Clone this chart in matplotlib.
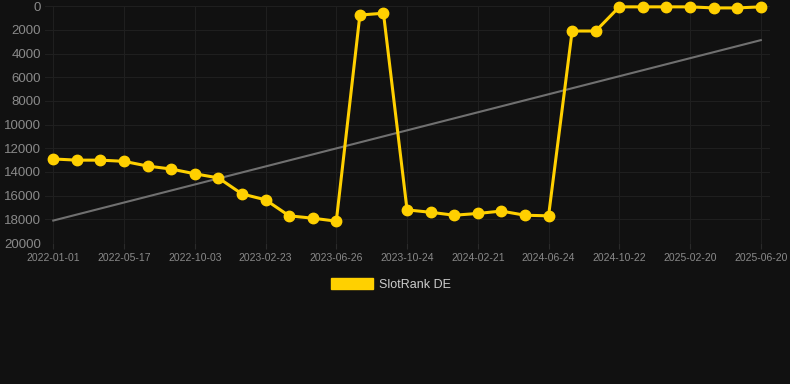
import numpy as np
import matplotlib
matplotlib.use("Agg")
import matplotlib.pyplot as plt
from matplotlib.patches import Patch

plt.rcParams['font.family'] = ['Liberation Sans', 'DejaVu Sans']

# Tick labels (every third data point)
date_labels = ["2022-01-01", "2022-05-17", "2022-10-03", "2023-02-23", "2023-06-26",
               "2023-10-24", "2024-02-21", "2024-06-24", "2024-10-22", "2025-02-20",
               "2025-06-20"]

# SlotRank DE values, one per point
rank = [12900, 13000, 13000, 13100, 13500, 13750, 14150, 14500, 15850, 16350,
        17700, 17900, 18150, 750, 600, 17200, 17400, 17650, 17500, 17300,
        17650, 17700, 2100, 2100, 60, 60, 60, 60, 150, 150, 60]

# trend line endpoints
trend = [18100, 2870]

bg = "#111111"
gold = "#FFD000"

fig = plt.figure(figsize=(7.9, 3.84), dpi=100, facecolor=bg)
ax = fig.add_axes([0.057, 0.367, 0.918, 0.617], facecolor=bg)

x = np.arange(len(rank))
ax.plot([x[0], x[-1]], trend, color="#707070", lw=1.5, zorder=2)
ax.plot(x, rank, color=gold, lw=2.2, marker="o", ms=7.5, zorder=3, clip_on=False)

ax.set_ylim(20000, 0)
ax.set_yticks(np.arange(0, 20001, 2000))
ax.set_xlim(-0.35, 30.4)
ax.set_xticks(x[::3])
ax.set_xticklabels(date_labels)

ax.grid(True, color="#1f1f1f", lw=0.8)
ax.set_axisbelow(True)
for s in ax.spines.values():
    s.set_visible(False)
ax.tick_params(axis="y", length=0, colors="#8a8a8a", labelsize=9.5, pad=3)
ax.tick_params(axis="x", length=4, color="#2a2a2a", colors="#8a8a8a", labelsize=7.5, pad=3)

fig.legend(handles=[Patch(facecolor=gold, edgecolor=gold, label="SlotRank DE")],
           loc="center", bbox_to_anchor=(0.495, 0.26), frameon=False,
           handlelength=3.4, handleheight=0.95, handletextpad=0.5,
           labelcolor="#cccccc", fontsize=9)

fig.savefig("out.png", dpi=100, facecolor=bg)
